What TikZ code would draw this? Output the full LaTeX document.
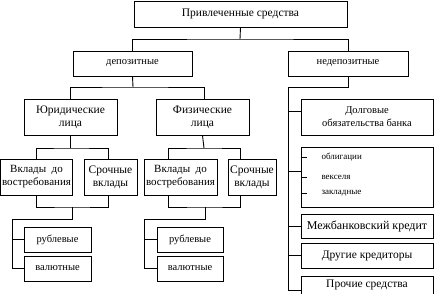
\documentclass[tikz,border=0pt]{standalone}
\usepackage{fontspec}
\setmainfont{Liberation Serif}
\usepackage{xcolor}
\definecolor{Ink}{HTML}{000000}
\definecolor{Panel}{HTML}{FFFFFF}

\begin{document}
\begin{tikzpicture}[x=1pt,y=-1pt,
  box/.style={draw=Ink,line width=0.9pt,inner sep=0pt,align=center,text=Ink,
    font=\fontsize{11.5}{13}\selectfont},
  smalltxt/.style={font=\fontsize{10.5}{12}\selectfont,text=Ink},
  listtxt/.style={font=\fontsize{9}{11}\selectfont,text=Ink},
  link/.style={draw=Ink,line width=0.9pt}]
\path[use as bounding box,fill=Panel] (0,0) rectangle (434,293);
\clip (0,0) rectangle (434,293);
% upper levels
\node[box,minimum width=213pt,minimum height=26pt] (top) at (240.5,14) {Привлеченные средства};
\node[box,smalltxt,minimum width=119pt,minimum height=25pt] (dep) at (132.5,63.5) {депозитные};
\node[box,smalltxt,minimum width=120pt,minimum height=25pt] (nedep) at (348,63.5) {недепозитные};
\node[box,minimum width=93pt,minimum height=36pt] (jur) at (70.5,117) {Юридические\\лица};
\node[box,minimum width=93pt,minimum height=36pt] (fiz) at (202.5,117) {Физические\\лица};
% deposits
\node[box,font=\fontsize{11}{13}\selectfont,minimum width=72pt,minimum height=36pt] (jvost) at (36.5,177) {Вклады\ \ до\\востребования};
\node[box,minimum width=53pt,minimum height=36pt] (jsroch) at (110.5,177) {Срочные\\вклады};
\node[box,font=\fontsize{11}{13}\selectfont,minimum width=73pt,minimum height=36pt] (fvost) at (180.5,177) {Вклады\ \ до\\востребования};
\node[box,minimum width=48pt,minimum height=36pt] (fsroch) at (252,177) {Срочные\\вклады};
\node[box,smalltxt,minimum width=67pt,minimum height=25pt] (jrub) at (57.5,239.5) {рублевые};
\node[box,smalltxt,minimum width=67pt,minimum height=25pt] (jval) at (57.5,268.5) {валютные};
\node[box,smalltxt,minimum width=66pt,minimum height=25pt] (frub) at (190,239.5) {рублевые};
\node[box,smalltxt,minimum width=66pt,minimum height=25pt] (fval) at (190,268.5) {валютные};
% non-deposits
\node[box,font=\fontsize{10.5}{13}\selectfont,minimum width=132pt,minimum height=36pt] (dolg) at (367,117) {Долговые\\обязательства банка};
\node[box,minimum width=132pt,minimum height=60pt] (obl) at (367,177) {};
\node[listtxt,anchor=west] (oblA) at (318,157) {облигации};
\node[listtxt,anchor=west] (oblB) at (318,177) {векселя};
\node[listtxt,anchor=west] (oblC) at (318,193) {закладные};
\node[box,font=\fontsize{12}{14}\selectfont,minimum width=132pt,minimum height=24pt] (mezh) at (367,226) {Межбанковский кредит};
\node[box,minimum width=132pt,minimum height=25pt] (drug) at (367,255.5) {Другие кредиторы};
\node[box,minimum width=132pt,minimum height=28pt,text depth=0pt] (proch) at (367,290) {};
\node[box,draw=none,anchor=north] (prochT) at (proch.north) {\rule{0pt}{11pt}Прочие средства};
% connectors
\draw[link] (top.south) -- (240,39) coordinate (t1);
\draw[link] (dep.north) |- (t1) -| (nedep.north);
\draw[link] (dep.south) -- (133,87) coordinate (d1);
\draw[link] (jur.north) |- (d1) -| ([xshift=1.5pt]fiz.north);
\draw[link] (jur.south) -- (70.5,148) coordinate (j1);
\draw[link] (jvost.north) |- (j1) -| ([xshift=-2.5pt]jsroch.north);
\draw[link] (jvost.south) |- (72,207) coordinate (j2) -| ([xshift=-2.5pt]jsroch.south);
\draw[link] (j2) -- (72,219) -| (12,268.5) -- (jval.west);
\draw[link] (12,239.5) -- (jrub.west);
\draw[link] (fiz.south) -- (204,148) coordinate (f1);
\draw[link] ([xshift=-12.5pt]fvost.north) |- (f1) -| ([xshift=-12pt]fsroch.north);
\draw[link] ([xshift=-12.5pt]fvost.south) |- (205,207) coordinate (f2) -| ([xshift=-12pt]fsroch.south);
\draw[link] (f2) -- (205,219) -| (144,268.5) -- (fval.west);
\draw[link] (144,239.5) -- (frub.west);
\draw[link] (nedep.south) -- (348,87) -| (288,290) coordinate (n1) -- (n1 -| proch.west);
\draw[link] (288,111) -- (288,111 -| dolg.west);
\draw[link] (288,171) -- (288,171 -| obl.west);
\draw[link] (288,226) -- (mezh.west);
\draw[link] (288,255.5) -- (drug.west);
\foreach \t in {oblA,oblB,oblC}
  \draw[link] (obl.west |- \t.west) -- ++(6,0);
\end{tikzpicture}
\end{document}
